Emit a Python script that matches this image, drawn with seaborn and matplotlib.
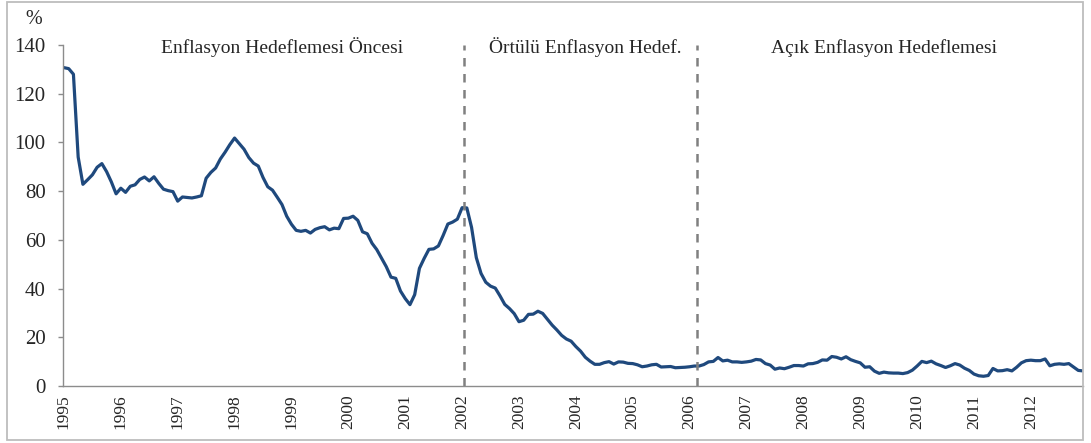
import numpy as np
import pandas as pd
import matplotlib
matplotlib.use("Agg")
import matplotlib.pyplot as plt
import seaborn as sns
from matplotlib.patches import Rectangle

# ---- data -------------------------------------------------------------
years = list(range(1995, 2013))

infl_1995_1998 = [
    130.7, 130.3, 128.0, 94.0, 82.8, 84.7, 86.7, 89.8, 91.3, 88.0, 83.8, 78.9,
    81.2, 79.5, 82.0, 82.6, 84.8, 85.8, 84.2, 85.9, 83.2, 80.8, 80.2, 79.8,
    75.9, 77.6, 77.4, 77.2, 77.6, 78.1, 85.3, 87.7, 89.5, 93.2, 96.0, 99.1,
    101.8, 99.5, 97.2, 93.8, 91.5, 90.3, 85.6, 81.8, 80.4, 77.5, 74.5, 69.7,
]
infl_1999_2002 = [
    66.4, 63.9, 63.5, 63.9, 62.8, 64.3, 65.0, 65.4, 64.1, 64.8, 64.6, 68.8,
    68.9, 69.7, 68.0, 63.3, 62.5, 58.6, 56.0, 52.5, 49.0, 44.7, 44.2, 39.0,
    35.9, 33.4, 37.5, 48.3, 52.4, 56.1, 56.3, 57.5, 61.8, 66.5, 67.3, 68.5,
    73.2, 73.1, 65.1, 52.7, 46.2, 42.6, 41.0, 40.2, 37.0, 33.5, 31.8, 29.7,
]
infl_2003_2006 = [
    26.4, 27.0, 29.4, 29.5, 30.7, 29.8, 27.4, 25.0, 23.0, 20.8, 19.3, 18.4,
    16.2, 14.3, 11.8, 10.2, 8.9, 8.9, 9.6, 10.0, 9.0, 9.9, 9.8, 9.3,
    9.2, 8.7, 7.9, 8.2, 8.7, 8.9, 7.8, 7.9, 8.0, 7.5, 7.6, 7.7,
    7.9, 8.2, 8.2, 8.8, 9.9, 10.1, 11.7, 10.3, 10.6, 9.9, 9.9, 9.7,
]
infl_2007_2012 = [
    9.9, 10.2, 10.9, 10.7, 9.2, 8.6, 6.9, 7.4, 7.1, 7.7, 8.4, 8.4,
    8.2, 9.1, 9.2, 9.7, 10.7, 10.6, 12.1, 11.8, 11.1, 12.0, 10.8, 10.1,
    9.5, 7.7, 7.9, 6.1, 5.2, 5.7, 5.4, 5.3, 5.3, 5.1, 5.5, 6.5,
    8.2, 10.1, 9.6, 10.2, 9.1, 8.4, 7.6, 8.3, 9.2, 8.6, 7.3, 6.4,
    4.9, 4.2, 4.0, 4.3, 7.2, 6.2, 6.3, 6.7, 6.2, 7.7, 9.5, 10.4,
    10.6, 10.4, 10.4, 11.1, 8.3, 8.9, 9.1, 8.9, 9.2, 7.8, 6.4, 6.2,
]
inflation = infl_1995_1998 + infl_1999_2002 + infl_2003_2006 + infl_2007_2012

period_labels = ["Enflasyon Hedeflemesi Öncesi",
                 "Örtülü Enflasyon Hedef.",
                 "Açık Enflasyon Hedeflemesi"]
period_label_x = [46.0, 109.9, 173.0]      # month index of label centres
regime_breaks = [84.3, 133.5]              # month index of dashed separators

# ---- plot -------------------------------------------------------------
sns.set_theme(style="white")
plt.rcParams['font.family'] = ['Liberation Serif', 'DejaVu Serif']

W, H = 1091, 443
fig = plt.figure(figsize=(W / 100, H / 100), dpi=100)
ax = fig.add_axes([63 / W, 57 / H, 1020 / W, 341 / H])

df = pd.DataFrame({"month": np.arange(len(inflation)), "value": inflation})
sns.lineplot(data=df, x="month", y="value", ax=ax, color="#1F497D",
             linewidth=2.3)

for b in regime_breaks:
    ax.axvline(b, ymin=0, ymax=1, color="#808080", linewidth=1.8,
               dashes=(3.4, 3.0))

ax.set_xlim(-0.2, 215)
ax.set_ylim(0, 140)
ax.set_yticks(range(0, 141, 20))
ax.set_xticks([12 * k for k in range(len(years))])
ax.set_xticklabels([str(y) for y in years], rotation=90)
ax.set_xlabel("")
ax.set_ylabel("")

for s in ["top", "right"]:
    ax.spines[s].set_visible(False)
for s in ["left", "bottom"]:
    ax.spines[s].set_color("#8c8c8c")
    ax.spines[s].set_linewidth(1.0)

ax.tick_params(axis="y", direction="out", length=3.6, width=1.0,
               color="#8c8c8c", pad=9, labelsize=15, labelcolor="#262626",
               left=True)
ax.tick_params(axis="x", length=0, pad=6, labelsize=12.5,
               labelcolor="#262626", bottom=True)

for lab, xp in zip(period_labels, period_label_x):
    ax.text(xp, 136.7, lab, ha="center", va="baseline", fontsize=14,
            color="#262626")

fig.text(34 / W, 1 - 20 / H, "%", ha="center", va="center", fontsize=14.5,
         color="#262626")

fig.patches.append(Rectangle((7 / W, 3 / H), (1083 - 7) / W, (440 - 2) / H,
                             transform=fig.transFigure, fill=False,
                             edgecolor="#bdbdbd", linewidth=1.3))

fig.savefig("out.png", dpi=100)
